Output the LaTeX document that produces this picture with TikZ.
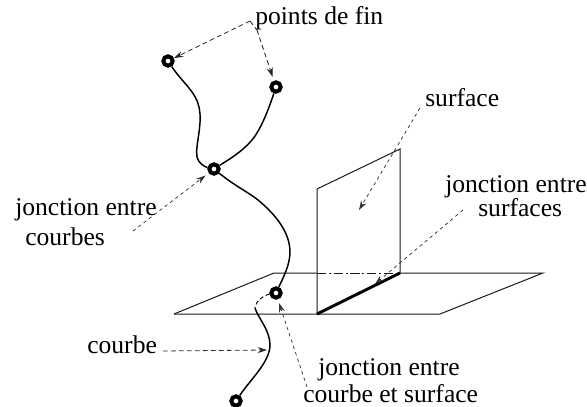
\documentclass[tikz,border=0pt]{standalone}
\usepackage{fontspec}
\setmainfont{Liberation Serif}
\usetikzlibrary{arrows.meta}
\tikzset{
  x=0.75pt,y=-0.75pt,
  lbl/.style={inner sep=0pt,font=\fontsize{19.2}{20}\selectfont,anchor=base west},
  endpt/.style={circle,draw=black,line width=3pt,minimum size=7pt,inner sep=0pt,fill=white},
  crv/.style={line width=1.1pt,black},
  edgeline/.style={line width=0.75pt,black!90},
  lead/.style={dash pattern=on 3.5pt off 2.5pt,line width=0.6pt,black!85},
  thinlead/.style={dash pattern=on 2.5pt off 2.5pt,line width=0.55pt,black!80},
  tip/.style={-{Stealth[length=7pt,width=4.5pt]}}
}
\begin{document}
\begin{tikzpicture}
\useasboundingbox (0,0) rectangle (587,407);
% plane
\coordinate (pa) at (174,314);
\coordinate (pb) at (274,273);
\coordinate (pc) at (543,273);
\coordinate (pd) at (440,314);
\coordinate (wa) at (317,314);
\coordinate (wb) at (317,189);
\coordinate (wc) at (400,149);
\coordinate (wd) at (400,273);
\draw[edgeline] (pa) -- (pb) -- (wa |- pb);
\draw[edgeline,dash pattern=on 7pt off 2pt on 1.5pt off 2pt] (wa |- pb) -- (wd);
\draw[edgeline] (wd) -- (pc) -- (pd) -- (pa);
% wall
\draw[edgeline] (wa) -- (wb) -- (wc) -- (wd);
\draw[line width=2.2pt] (wa) -- (wd);
% nodes
\node[endpt] (e1) at (168,61) {};
\node[endpt] (e2) at (276,87) {};
\node[endpt] (j1) at (214,169) {};
\node[endpt] (j2) at (276,293) {};
\node[endpt] (e3) at (236,401) {};
\coordinate (k1) at (199,107);
\coordinate (k2) at (255,308);
% curves
\draw[crv] (e1) .. controls (182,82) and (196,92) .. (k1)
   .. controls (203,125) and (195,145) .. (197,157)
   .. controls (198,163) and (205,167) .. (j1);
\draw[crv] (e2) .. controls (270,105) and (262,128) .. (252,140)
   .. controls (242,152) and (228,160) .. (j1);
\draw[crv] (j1) .. controls (235,186) and (248,192) .. (258,200)
   .. controls (275,214) and (290,232) .. (290,252)
   .. controls (290,265) and (283,278) .. (j2);
\draw[crv,densely dashed,line width=0.7pt] (j2) .. controls (265,295) and (256,300) .. (k2);
\draw[crv] (k2) .. controls (258,318) and (270,330) .. (270,345)
   .. controls (270,362) and (250,380) .. (e3);
% labels
\node[lbl] (t1) at (255,25) {points de fin};
\node[lbl] (t2) at (425,107) {surface};
\node[lbl] (t3) at (445,192) {jonction entre};
\node[lbl] (t3b) at (478,216) {surfaces};
\node[lbl] (t4) at (15,215) {jonction entre};
\node[lbl] (t5) at (25,245) {courbes};
\node[lbl] (t6) at (87,353) {courbe};
\node[lbl] (t7) at (318,375) {jonction entre};
\node[lbl] (t8) at (303,402) {courbe et surface};
% leaders
\coordinate (s1) at (250,21);
\coordinate (s2) at (257,30);
\coordinate (s3) at (133,231);
\coordinate (s4) at (420,108);
\coordinate (s5) at (359,210);
\coordinate (s6) at (463,210);
\coordinate (s7) at (375,284);
\coordinate (s8) at (307,387);
\coordinate (s9) at (279,303);
\coordinate (s10) at (267,350);
\coordinate (s11) at (163,351);
\draw[lead,tip] (s1) -- (e1);
\draw[lead] (s1) -- (s2);
\draw[lead,tip,shorten >=3pt] (s2) -- (e2);
\draw[thinlead,tip,shorten >=3pt] (s3) -- (j1);
\draw[thinlead,tip] (s4) -- (s5);
\draw[thinlead,tip] (s6) -- (s7);
\draw[thinlead,tip] (s8) -- (s9);
\draw[lead,tip] (s11) -- (s10);
\end{tikzpicture}
\end{document}
